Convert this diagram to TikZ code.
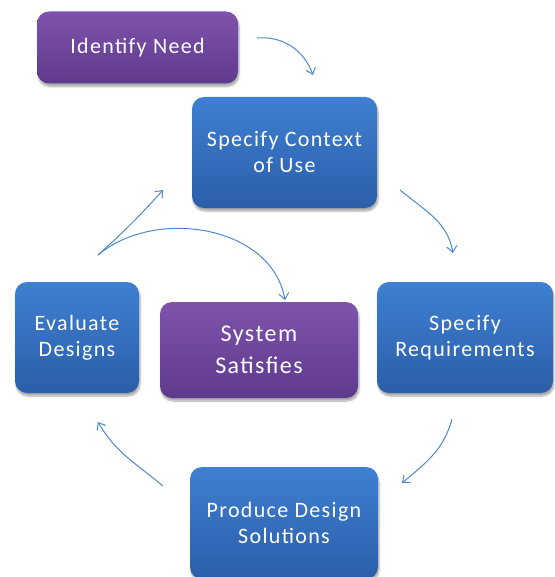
\documentclass[tikz,border=0pt]{standalone}
\usepackage{fontspec}
\setmainfont[LetterSpace=6]{Carlito}
\usetikzlibrary{arrows.meta,shadows.blur}
\definecolor{bluetop}{HTML}{3E80D2}
\definecolor{bluebot}{HTML}{2B5EA8}
\definecolor{purtop}{HTML}{7F53AC}
\definecolor{purbot}{HTML}{5E3A8C}
\definecolor{arrowc}{HTML}{4E89CB}
\tikzset{
  box/.style={rounded corners=12pt, align=center, text=white,
    font=\fontsize{22}{26}\selectfont, inner sep=0pt,
    blur shadow={shadow xshift=1pt, shadow yshift=-3pt, shadow blur steps=6, shadow opacity=35}},
  bluebox/.style={box, top color=bluetop, bottom color=bluebot},
  purbox/.style={box, top color=purtop, bottom color=purbot},
  flow/.style={draw=arrowc, line width=1pt, -{Straight Barb[length=6pt,width=10pt]}}
}
\begin{document}
\begin{tikzpicture}[x=1pt,y=-1pt]
\useasboundingbox (0,0) rectangle (554,577);
\node[purbox, minimum width=201pt, minimum height=72pt] (need) at (137.5,47.5) {Identify Need};
\node[bluebox, minimum width=185pt, minimum height=111pt] (context) at (284.5,152.5) {Specify Context\\of Use};
\node[bluebox, minimum width=124pt, minimum height=111pt] (evaluate) at (77,337.5) {Evaluate\\Designs};
\node[purbox, minimum width=198pt, minimum height=96pt, font=\fontsize{24}{32}\selectfont] (system) at (259,350) {System\\Satisfies};
\node[bluebox, minimum width=176pt, minimum height=111pt] (req) at (465,337.5) {Specify\\Requirements};
\node[bluebox, minimum width=188pt, minimum height=112pt] (produce) at (284,523) {Produce Design\\Solutions};
\coordinate (a1s) at (257,38);
\coordinate (a1e) at (313,75);
\coordinate (a2s) at (400,190);
\coordinate (a2e) at (453,253);
\coordinate (a3s) at (452,419);
\coordinate (a3e) at (402,483);
\coordinate (a4s) at (163,486);
\coordinate (a4e) at (98,422);
\coordinate (a5s) at (98,255);
\coordinate (a5e) at (163,190);
\coordinate (a6e) at (285,300);
\draw[flow] (a1s) to[out=5, in=110] (a1e);
\draw[flow] (a2s) to[out=-40, in=100] (a2e);
\draw[flow] (a3s) to[out=-105, in=40] (a3e);
\draw[flow] (a4s) to[out=140, in=-60] (a4e);
\draw[flow] (a5s) to[out=42, in=-132] (a5e);
\draw[flow] (a5s) to[out=40, in=100] (a6e);
\end{tikzpicture}
\end{document}
